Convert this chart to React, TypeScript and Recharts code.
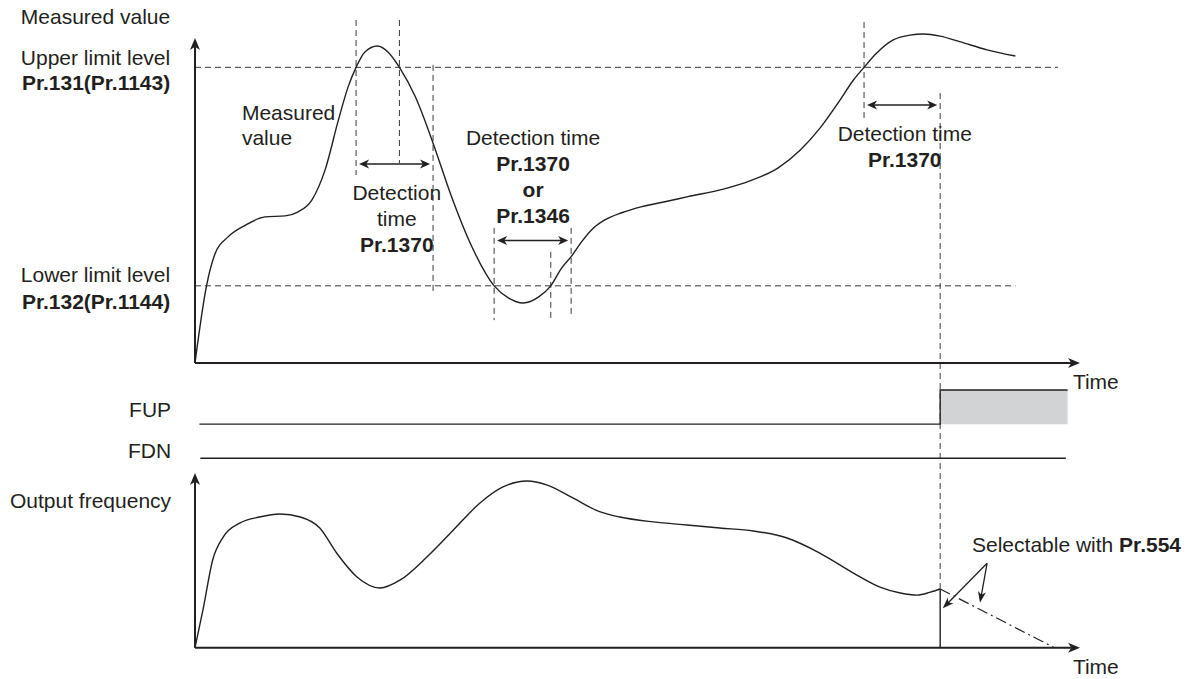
import {
  Area,
  ComposedChart,
  Line,
  ReferenceDot,
  ReferenceLine,
  XAxis,
  YAxis,
} from "recharts";

const WIDTH = 1194;
const HEIGHT = 679;
const INK = "#231f20";
const GUIDE = "#3a3a3a";
const FONT = "'Liberation Sans', Arial, Helvetica, sans-serif";
const FONT_SIZE = 21;

// time runs 0..100 across all three panels

// measured value (top panel, % of panel height)
const measuredTime = [
  0, 1.3, 2.3, 3.7, 5.7, 7.9, 10.2, 11.6, 13.2, 14.7, 16.2, 17.3, 18.2, 19.2,
  20.6, 21.8, 23.1, 24.9, 26.9, 29.0, 31.3, 33.8, 35.4, 37.1, 38.8, 40.2, 41.4,
  42.5, 43.7, 44.8, 46.3, 48.2, 50.5, 53.1, 55.7, 59.7, 62.7, 65.9, 68.4, 70.6,
  72.9, 74.4, 75.6, 77.0, 78.9, 80.8, 82.3, 84.2, 86.4, 89.5, 92.7,
];
const measuredValue = [
  0, 22.5, 32.1, 36.7, 40.2, 42.6, 42.9, 44.0, 47.5, 56.3, 70.8, 80.5, 86.2,
  90.7, 92.4, 90.7, 86.2, 77.6, 64.1, 48.4, 33.8, 22.5, 19.0, 17.5, 19.2, 22.5,
  27.6, 31.0, 35.4, 38.8, 41.7, 43.8, 45.6, 47.0, 48.5, 50.7, 53.1, 56.9, 62.1,
  68.4, 76.7, 82.5, 86.2, 90.3, 94.2, 95.6, 95.9, 95.3, 93.7, 91.3, 89.5,
];
const upperLimit = 86.2;
const lowerLimit = 22.5;

// level crossings and detection windows
const upperCrossTimes = [18.2, 23.1, 75.6];
const lowerCrossTimes = [33.8, 40.2];
const detectStart = [18.2, 33.8, 75.6];
const detectEnd = [26.9, 42.5, 84.2];

// output signals
const fupTime = [0.5, 84.2, 98.6];
const fupLevel = [0, 1, 1];
const fdnTime = [0.6, 98.4];
const fdnLevel = [0, 0];

// output frequency (bottom panel, % of panel height)
const outputTime = [
  0, 0.9, 2.0, 3.2, 5.1, 7.3, 9.6, 11.9, 14.1, 16.0, 18.3, 20.9, 23.2, 26.2,
  29.2, 32.2, 34.8, 37.5, 39.8, 42.7, 45.8, 48.0, 51.8, 55.6, 59.3, 63.1, 66.9,
  70.6, 74.4, 77.4, 79.7, 81.6, 83.1, 84.2,
];
const outputFreq = [
  0, 21.6, 50.2, 63.4, 71.4, 74.8, 76.5, 74.8, 68.5, 54.2, 40.5, 34.2, 38.8,
  51.9, 67.4, 82.8, 92.0, 95.4, 93.1, 85.7, 77.7, 74.8, 72.0, 70.2, 68.5, 66.8,
  62.8, 54.2, 42.7, 34.7, 31.3, 30.1, 31.8, 33.6,
];
const stopTime = 84.2;
const decelEndTime = 97.1;

const measuredRows = measuredTime.map((t, i) => ({ t, value: measuredValue[i] }));
const outputRows = outputTime.map((t, i) => ({ t, freq: outputFreq[i] }));
const lastFreq = outputFreq[outputFreq.length - 1];
const cutRows = [
  { t: stopTime, freq: lastFreq },
  { t: stopTime, freq: 0 },
];
const decelRows = [
  { t: stopTime, freq: lastFreq },
  { t: decelEndTime, freq: 0 },
];
const fupRows = fupTime.map((t, i) => ({ t, level: fupLevel[i] }));
const fupOnRows = fupTime.map((t, i) => ({ t, on: fupLevel[i] ? 1 : null }));
const fdnRows = fdnTime.map((t, i) => ({ t, level: fdnLevel[i] }));

// layout: vertical reach of the dashed guides [time, from, to]
const guideSpans: [number, number, number][] = [
  [upperCrossTimes[0], 100, 54.8],
  [upperCrossTimes[1], 100, 58.3],
  [detectEnd[0], 86.9, 20.7],
  [lowerCrossTimes[0], 39.4, 12.5],
  [lowerCrossTimes[1], 32.4, 12.0],
  [detectEnd[1], 39.4, 14.0],
  [upperCrossTimes[2], 99.4, 71.4],
  [detectEnd[2], 78.7, -65.9],
];
const arrowLevels = [58.0, 35.7, 75.2];

type Run = { text: string; bold?: boolean };
type Note = {
  t: number;
  v: number;
  anchor: "start" | "middle" | "end";
  gap: number;
  lines: Run[][];
  axis?: string;
};

const topNotes: Note[] = [
  { t: -2.8, v: 100.9, anchor: "end", gap: 25, lines: [[{ text: "Measured value" }]] },
  {
    t: -2.8,
    v: 89.2,
    anchor: "end",
    gap: 25,
    lines: [[{ text: "Upper limit level" }], [{ text: "Pr.131(Pr.1143)", bold: true }]],
  },
  {
    t: -2.8,
    v: 25.7,
    anchor: "end",
    gap: 27,
    lines: [[{ text: "Lower limit level" }], [{ text: "Pr.132(Pr.1144)", bold: true }]],
  },
  { t: 5.3, v: 72.9, anchor: "start", gap: 25, lines: [[{ text: "Measured" }], [{ text: "value" }]] },
  {
    t: 22.8,
    v: 49.6,
    anchor: "middle",
    gap: 26,
    lines: [[{ text: "Detection" }], [{ text: "time" }], [{ text: "Pr.1370", bold: true }]],
  },
  {
    t: 38.2,
    v: 65.6,
    anchor: "middle",
    gap: 25.7,
    lines: [
      [{ text: "Detection time" }],
      [{ text: "Pr.1370", bold: true }],
      [{ text: "or", bold: true }],
      [{ text: "Pr.1346", bold: true }],
    ],
  },
  {
    t: 80.2,
    v: 66.8,
    anchor: "middle",
    gap: 26,
    lines: [[{ text: "Detection time" }], [{ text: "Pr.1370", bold: true }]],
  },
  { t: 99.2, v: -5.5, anchor: "start", gap: 0, lines: [[{ text: "Time" }]] },
];

const signalNotes: Note[] = [
  { t: -2.7, v: 0.44, anchor: "end", gap: 0, axis: "fup", lines: [[{ text: "FUP" }]] },
  { t: -2.7, v: 0.24, anchor: "end", gap: 0, axis: "fdn", lines: [[{ text: "FDN" }]] },
];

const bottomNotes: Note[] = [
  { t: -2.7, v: 84.0, anchor: "end", gap: 0, lines: [[{ text: "Output frequency" }]] },
  {
    t: 87.8,
    v: 58.8,
    anchor: "start",
    gap: 0,
    lines: [[{ text: "Selectable with " }, { text: "Pr.554", bold: true }]],
  },
  { t: 99.2, v: -10.9, anchor: "start", gap: 0, lines: [[{ text: "Time" }]] },
];

function headPoints(tx: number, ty: number, ux: number, uy: number, len: number, wid: number) {
  const bx = tx - ux * len;
  const by = ty - uy * len;
  const nx = (-uy * wid) / 2;
  const ny = (ux * wid) / 2;
  const mx = tx - ux * len * 0.72;
  const my = ty - uy * len * 0.72;
  return `${tx},${ty} ${bx + nx},${by + ny} ${mx},${my} ${bx - nx},${by - ny}`;
}

function makeArrow(both: boolean, sw: number, len: number, wid: number, inset = 0) {
  return (p: any) => {
    const d = Math.hypot(p.x2 - p.x1, p.y2 - p.y1) || 1;
    const ux = (p.x2 - p.x1) / d;
    const uy = (p.y2 - p.y1) / d;
    const sx = p.x1 + ux * inset;
    const sy = p.y1 + uy * inset;
    const ex = p.x2 - ux * inset;
    const ey = p.y2 - uy * inset;
    const back = len * 0.7;
    return (
      <g>
        <line
          x1={both ? sx + ux * back : sx}
          y1={both ? sy + uy * back : sy}
          x2={ex - ux * back}
          y2={ey - uy * back}
          stroke={INK}
          strokeWidth={sw}
        />
        <polygon points={headPoints(ex, ey, ux, uy, len, wid)} fill={INK} />
        {both && <polygon points={headPoints(sx, sy, -ux, -uy, len, wid)} fill={INK} />}
      </g>
    );
  };
}

const axisArrow = makeArrow(false, 2, 12, 10);
const spanArrow = makeArrow(true, 1.6, 10, 9, 3);
const pointerArrow = makeArrow(false, 1.3, 11, 8);

function renderNote(note: Note) {
  return (p: any) => (
    <g>
      {note.lines.map((line, i) => (
        <text
          key={i}
          x={p.cx}
          y={p.cy + i * note.gap + 7.5}
          textAnchor={note.anchor}
          fontFamily={FONT}
          fontSize={FONT_SIZE}
          fill={INK}
        >
          {line.map((run, j) => (
            <tspan key={j} fontWeight={run.bold ? 700 : 400}>
              {run.text}
            </tspan>
          ))}
        </text>
      ))}
    </g>
  );
}

function notesFor(notes: Note[]) {
  return notes.map((n, i) => (
    <ReferenceDot
      key={`note-${i}`}
      x={n.t}
      y={n.v}
      yAxisId={n.axis ?? 0}
      ifOverflow="visible"
      shape={renderNote(n)}
    />
  ));
}

const layer: React.CSSProperties = { position: "absolute", left: 0, top: 0 };

function MeasuredPanel() {
  return (
    <ComposedChart
      width={WIDTH}
      height={HEIGHT}
      data={measuredRows}
      margin={{ top: 20, right: 114, bottom: 316, left: 195 }}
    >
      <XAxis type="number" dataKey="t" domain={[0, 100]} hide />
      <YAxis type="number" domain={[0, 100]} hide />
      <ReferenceLine
        segment={[{ x: 0, y: upperLimit }, { x: 97.5, y: upperLimit }]}
        stroke={GUIDE}
        strokeDasharray="6 4"
        ifOverflow="visible"
      />
      <ReferenceLine
        segment={[{ x: 0, y: lowerLimit }, { x: 92.7, y: lowerLimit }]}
        stroke={GUIDE}
        strokeDasharray="6 4"
        ifOverflow="visible"
      />
      {guideSpans.map(([t, a, b], i) => (
        <ReferenceLine
          key={`g-${i}`}
          segment={[{ x: t, y: a }, { x: t, y: b }]}
          stroke={GUIDE}
          strokeDasharray="6 4"
          ifOverflow="visible"
        />
      ))}
      {detectStart.map((s, i) => (
        <ReferenceLine
          key={`d-${i}`}
          segment={[{ x: s, y: arrowLevels[i] }, { x: detectEnd[i], y: arrowLevels[i] }]}
          ifOverflow="visible"
          shape={spanArrow}
        />
      ))}
      <ReferenceLine segment={[{ x: 0, y: 0 }, { x: 0, y: 94.75 }]} ifOverflow="visible" shape={axisArrow} />
      <ReferenceLine segment={[{ x: 0, y: 0 }, { x: 100, y: 0 }]} ifOverflow="visible" shape={axisArrow} />
      <Line
        type="monotone"
        dataKey="value"
        stroke={INK}
        strokeWidth={1.4}
        dot={false}
        activeDot={false}
        isAnimationActive={false}
      />
      {notesFor(topNotes)}
    </ComposedChart>
  );
}

function SignalPanel() {
  return (
    <ComposedChart
      width={WIDTH}
      height={HEIGHT}
      margin={{ top: 390, right: 114, bottom: 220.7, left: 195 }}
    >
      <XAxis type="number" dataKey="t" domain={[0, 100]} hide />
      <YAxis yAxisId="fup" type="number" domain={[-1, 1]} hide />
      <YAxis yAxisId="fdn" type="number" domain={[0, 2]} hide />
      <Area
        yAxisId="fup"
        data={fupOnRows}
        dataKey="on"
        type="linear"
        baseValue={0}
        fill="#d1d3d4"
        fillOpacity={1}
        stroke="none"
        isAnimationActive={false}
      />
      <Line
        yAxisId="fup"
        data={fupRows}
        dataKey="level"
        type="stepAfter"
        stroke={INK}
        strokeWidth={1.4}
        dot={false}
        activeDot={false}
        isAnimationActive={false}
      />
      <Line
        yAxisId="fdn"
        data={fdnRows}
        dataKey="level"
        type="linear"
        stroke={INK}
        strokeWidth={1.4}
        dot={false}
        activeDot={false}
        isAnimationActive={false}
      />
      {notesFor(signalNotes)}
    </ComposedChart>
  );
}

function OutputPanel() {
  return (
    <ComposedChart
      width={WIDTH}
      height={HEIGHT}
      data={outputRows}
      margin={{ top: 473, right: 114, bottom: 31.3, left: 195 }}
    >
      <XAxis type="number" dataKey="t" domain={[0, 100]} hide />
      <YAxis type="number" domain={[0, 100]} hide />
      <ReferenceLine segment={[{ x: 0, y: 0 }, { x: 0, y: 100 }]} ifOverflow="visible" shape={axisArrow} />
      <ReferenceLine segment={[{ x: 0, y: 0 }, { x: 100, y: 0 }]} ifOverflow="visible" shape={axisArrow} />
      <Line
        type="monotone"
        dataKey="freq"
        stroke={INK}
        strokeWidth={1.4}
        dot={false}
        activeDot={false}
        isAnimationActive={false}
      />
      <Line
        data={cutRows}
        dataKey="freq"
        type="linear"
        stroke={INK}
        strokeWidth={1.4}
        dot={false}
        activeDot={false}
        isAnimationActive={false}
      />
      <Line
        data={decelRows}
        dataKey="freq"
        type="linear"
        stroke={INK}
        strokeWidth={1.2}
        strokeDasharray="11 4 2 4"
        dot={false}
        activeDot={false}
        isAnimationActive={false}
      />
      <ReferenceLine
        segment={[{ x: 89.5, y: 48.3 }, { x: 84.5, y: 22.6 }]}
        ifOverflow="visible"
        shape={pointerArrow}
      />
      <ReferenceLine
        segment={[{ x: 89.5, y: 48.3 }, { x: 88.7, y: 25.8 }]}
        ifOverflow="visible"
        shape={pointerArrow}
      />
      {notesFor(bottomNotes)}
    </ComposedChart>
  );
}

export default function App() {
  return (
    <div
      style={{
        position: "absolute",
        left: 0,
        top: 0,
        width: WIDTH,
        height: HEIGHT,
        background: "#fff",
        overflow: "hidden",
      }}
    >
      <div style={layer}>
        <MeasuredPanel />
      </div>
      <div style={layer}>
        <SignalPanel />
      </div>
      <div style={layer}>
        <OutputPanel />
      </div>
    </div>
  );
}
